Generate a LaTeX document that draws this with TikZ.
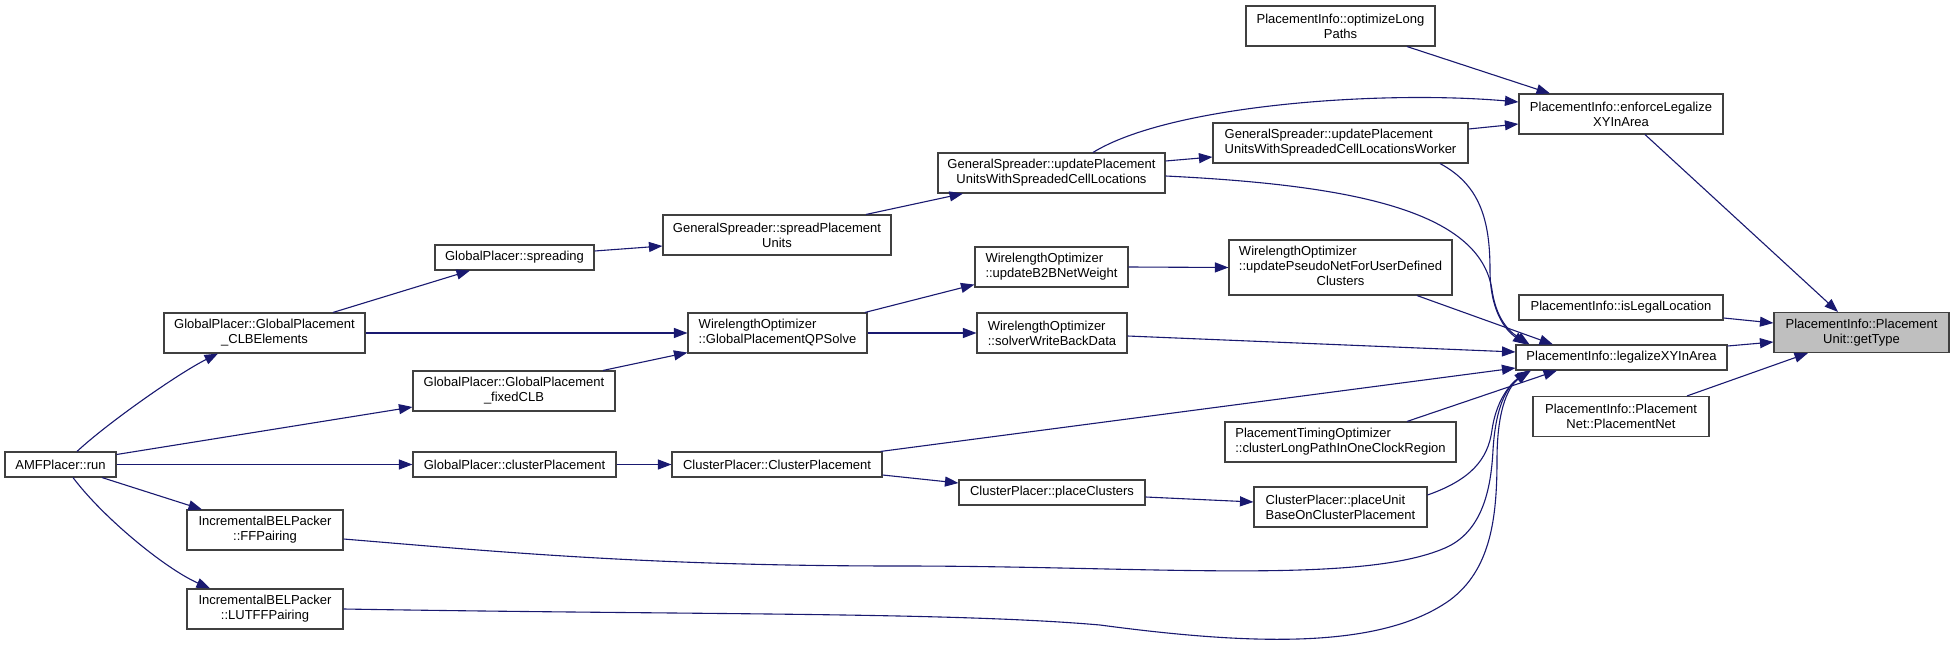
\documentclass[tikz,border=0pt]{standalone}
\usepackage{fontspec}
\setmainfont{Liberation Sans}
\usetikzlibrary{arrows.meta}
\definecolor{edgec}{HTML}{191970}
\definecolor{boxc}{HTML}{404040}
\definecolor{hlc}{HTML}{BFBFBF}
\begin{document}
\begin{tikzpicture}[x=1pt,y=-1pt,
  fn/.style={draw=boxc, fill=white, line width=1.1pt, inner sep=0pt, anchor=center,
     font=\fontsize{13}{15}\selectfont, align=center},
  fnl/.style={fn, align=left},
  hl/.style={fn, fill=hlc},
  call/.style={draw=edgec, line width=1.1pt, -{Triangle[length=13.5pt,width=10pt]}, edgec}
]
\fill[white] (0,0) rectangle (1955,650);
\useasboundingbox (0,0) rectangle (1955,650);

% column 1
\node[fn, minimum width=111pt, minimum height=25pt] (run) at (60.5,464.5) {AMFPlacer::run};
% column 2
\node[fn, minimum width=201pt, minimum height=40pt] (clb) at (264.5,333) {GlobalPlacer::GlobalPlacement\\\_CLBElements};
\node[fn, minimum width=156pt, minimum height=40pt] (ff) at (265,530) {IncrementalBELPacker\\::FFPairing};
\node[fn, minimum width=156pt, minimum height=40pt] (lutff) at (265,609) {IncrementalBELPacker\\::LUTFFPairing};
% column 3
\node[fn, minimum width=159pt, minimum height=25pt] (spreading) at (514.5,257.5) {GlobalPlacer::spreading};
\node[fn, minimum width=202pt, minimum height=40pt] (fixed) at (514,391) {GlobalPlacer::GlobalPlacement\\\_fixedCLB};
\node[fn, minimum width=203pt, minimum height=25pt] (gcp) at (514.5,464.5) {GlobalPlacer::clusterPlacement};
% column 4
\node[fn, minimum width=228pt, minimum height=40pt] (spreadpu) at (777,235) {GeneralSpreader::spreadPlacement\\Units};
\node[fnl, minimum width=179pt, minimum height=40pt] (qp) at (777.5,333) {WirelengthOptimizer\\::GlobalPlacementQPSolve};
\node[fn, minimum width=210pt, minimum height=25pt] (cp) at (777,464.5) {ClusterPlacer::ClusterPlacement};
% column 5
\node[fn, minimum width=227pt, minimum height=40pt] (upu) at (1051.5,173) {GeneralSpreader::updatePlacement\\UnitsWithSpreadedCellLocations};
\node[fnl, minimum width=153pt, minimum height=40pt] (b2b) at (1051.5,267) {WirelengthOptimizer\\::updateB2BNetWeight};
\node[fnl, minimum width=150pt, minimum height=40pt] (solver) at (1052,333) {WirelengthOptimizer\\::solverWriteBackData};
\node[fn, minimum width=186pt, minimum height=25pt] (pcl) at (1052,492.5) {ClusterPlacer::placeClusters};
% column 6
\node[fn, minimum width=189pt, minimum height=40pt] (olp) at (1340.5,26) {PlacementInfo::optimizeLong\\Paths};
\node[fnl, minimum width=255pt, minimum height=40pt] (worker) at (1340.5,143) {GeneralSpreader::updatePlacement\\UnitsWithSpreadedCellLocationsWorker};
\node[fn, minimum width=223pt, minimum height=55pt] (pseudo) at (1340.5,267.5) {\begin{tabular}{@{}l@{}}WirelengthOptimizer\\::updatePseudoNetForUserDefined\\\multicolumn{1}{@{}c@{}}{Clusters}\end{tabular}};
\node[fnl, minimum width=231pt, minimum height=40pt] (pto) at (1340.5,442) {PlacementTimingOptimizer\\::clusterLongPathInOneClockRegion};
\node[fnl, minimum width=173pt, minimum height=40pt] (pu) at (1340.5,507) {ClusterPlacer::placeUnit\\BaseOnClusterPlacement};
% column 7
\node[fn, minimum width=204pt, minimum height=40pt] (enforce) at (1621,114) {PlacementInfo::enforceLegalize\\XYInArea};
\node[fn, minimum width=204pt, minimum height=25pt] (islegal) at (1621,307.5) {PlacementInfo::isLegalLocation};
\node[fn, minimum width=211pt, minimum height=25pt] (legal) at (1621.5,357.5) {PlacementInfo::legalizeXYInArea};
\node[fn, minimum width=176pt, minimum height=40pt] (pnet) at (1621,416.5) {PlacementInfo::Placement\\Net::PlacementNet};
% column 8
\node[hl, minimum width=175pt, minimum height=40pt] (gt) at (1861.5,332.5) {PlacementInfo::Placement\\Unit::getType};

% edges from AMFPlacer::run
\draw[call] ([xshift=16.5pt]run.north) .. controls +(30,-28) and +(-40,20) .. ([xshift=-46.5pt]clb.south);
\draw[call] ([yshift=10pt]run.east) -- ([yshift=-16pt]fixed.west);
\draw[call] (run.east) -- (gcp.west);
\draw[call] ([xshift=41.5pt]run.south) -- ([xshift=-63pt]ff.north);
\draw[call] ([xshift=12.5pt]run.south) .. controls +(30,40) and +(-45,-20) .. ([xshift=-55pt]lutff.north);

% column 2 -> 3/4
\draw[call] ([xshift=68.5pt]clb.north) -- ([xshift=-44.5pt]spreading.south);
\draw[call] (clb.east) -- (qp.west);
\draw[call] ([xshift=89pt]fixed.north) -- ([yshift=1pt]qp.south west);
\draw[call] ([yshift=6.5pt]spreading.east) -- ([yshift=-11pt]spreadpu.west);
\draw[call] (gcp.east) -- (cp.west);

% column 4 -> 5
\draw[call] ([xshift=89pt]spreadpu.north) -- ([xshift=-88.5pt]upu.south);
\draw[call] ([xshift=87.5pt]qp.north) -- ([yshift=3pt]b2b.south west);
\draw[call] (qp.east) -- (solver.west);
\draw[call] ([yshift=-10.5pt]cp.east) -- ([yshift=9.5pt]pcl.west);

% column 5 -> 6
\draw[call] ([yshift=12pt]upu.east) -- ([yshift=-14pt]worker.west);
\draw[call] (b2b.east) -- (pseudo.west);
\draw[call] ([yshift=-4.5pt]pcl.east) -- ([yshift=5pt]pu.west);

% to enforceLegalizeXYInArea
\draw[call] ([xshift=41.5pt]upu.north) .. controls (1170,105) and (1380,90) .. ([yshift=12pt]enforce.west);
\draw[call] ([yshift=14pt]worker.east) -- ([yshift=-10pt]enforce.west);
\draw[call] ([xshift=66.5pt]olp.south) -- ([xshift=-71pt]enforce.north);

% to legalizeXYInArea
\draw[call] ([yshift=-3pt]upu.east) .. controls (1350,185) and (1480,210) .. (1492,290)
   .. controls (1497,325) and (1515,335) .. ([xshift=-92pt]legal.north);
\draw[call] ([xshift=99.5pt]worker.south) .. controls (1480,185) and (1490,220) .. (1490,270)
   .. controls (1490,310) and (1505,330) .. ([xshift=-95pt]legal.north);
\draw[call] ([xshift=76.5pt]pseudo.south) -- ([xshift=-68.5pt]legal.north);
\draw[call] ([yshift=-3pt]solver.east) -- ([yshift=5.5pt]legal.west);
\draw[call] ([xshift=-2pt]cp.north east) -- ([yshift=-10.5pt]legal.west);
\draw[call] ([xshift=66.5pt]pto.north) -- ([xshift=-64.5pt]legal.south);
\draw[call] ([yshift=12pt]pu.east) .. controls (1470,480) and (1488,460) .. (1492,430)
   .. controls (1497,395) and (1515,380) .. ([xshift=-90.5pt]legal.south);
\draw[call] ([yshift=-9pt]ff.east) .. controls (500,552) and (650,566) .. (900,566)
   .. controls (1150,566) and (1360,585) .. (1445,548)
   .. controls (1482,532) and (1491,490) .. (1493,450)
   .. controls (1496,400) and (1510,385) .. ([xshift=-93.5pt]legal.south);
\draw[call] (lutff.east) .. controls (700,615) and (950,612) .. (1100,625)
   .. controls (1250,645) and (1380,650) .. (1450,600)
   .. controls (1490,570) and (1497,520) .. (1497,460)
   .. controls (1497,405) and (1510,385) .. ([xshift=-92pt]legal.south);

% to getType
\draw[call] ([xshift=24pt]enforce.south) -- ([xshift=-23.5pt]gt.north);
\draw[call] ([yshift=-10.5pt]islegal.east) -- ([yshift=9.5pt]gt.west);
\draw[call] ([yshift=11.5pt]legal.east) -- ([yshift=-9.5pt]gt.west);
\draw[call] ([xshift=66pt]pnet.north) -- ([xshift=-53.5pt]gt.south);
\end{tikzpicture}
\end{document}
